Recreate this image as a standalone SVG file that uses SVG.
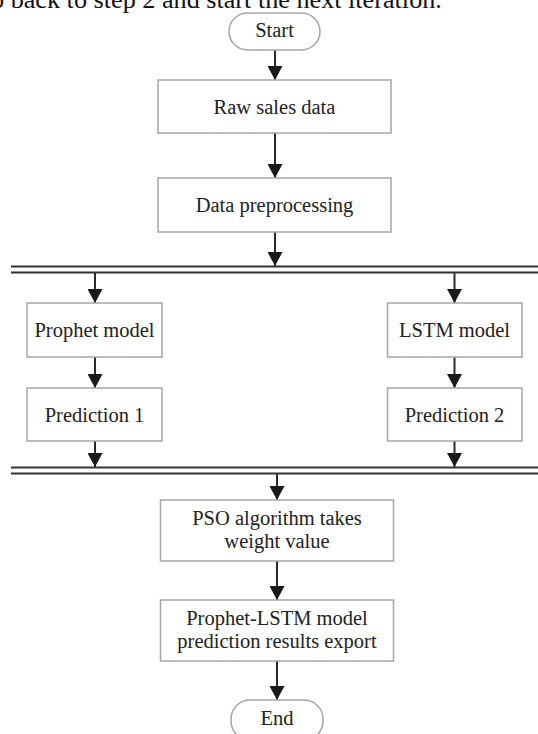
<svg xmlns="http://www.w3.org/2000/svg" width="538" height="734" viewBox="0 0 538 734">
<defs>
<style>
.box{fill:#fff;stroke:#a6a6a6;stroke-width:1.5}
.lbl{font-family:"Liberation Serif","Times New Roman",serif;font-size:20.5px;fill:#222;text-anchor:middle}
.cn{stroke:#2a2a2a;stroke-width:2;fill:none}
.bus{stroke:#333;stroke-width:2;fill:none}
</style>
<marker id="ah" markerUnits="userSpaceOnUse" viewBox="0 0 14 15" markerWidth="14" markerHeight="15" refX="14" refY="7.5" orient="auto">
<path d="M0,0 L14,7.5 L0,15 z" fill="#1a1a1a"/>
</marker>
</defs>
<rect width="538" height="734" fill="#fff"/>
<text x="-9" y="7.5" font-family="Liberation Serif, serif" font-size="26.2" fill="#111">o back to step 2 and start the next iteration.</text>

<g id="connectors">
<line class="cn" x1="275" y1="50" x2="275" y2="80" marker-end="url(#ah)"/>
<line class="cn" x1="275" y1="133" x2="275" y2="178" marker-end="url(#ah)"/>
<line class="cn" x1="275" y1="232" x2="275" y2="266" marker-end="url(#ah)"/>
<line class="bus" x1="11" y1="266.5" x2="538" y2="266.5"/>
<line class="bus" x1="11" y1="272.5" x2="538" y2="272.5"/>
<line class="cn" x1="95" y1="273" x2="95" y2="303" marker-end="url(#ah)"/>
<line class="cn" x1="454.5" y1="273" x2="454.5" y2="303" marker-end="url(#ah)"/>
<line class="cn" x1="95" y1="357" x2="95" y2="388" marker-end="url(#ah)"/>
<line class="cn" x1="454.5" y1="357" x2="454.5" y2="388" marker-end="url(#ah)"/>
<line class="cn" x1="95" y1="441" x2="95" y2="467" marker-end="url(#ah)"/>
<line class="cn" x1="454.5" y1="441" x2="454.5" y2="467" marker-end="url(#ah)"/>
<line class="bus" x1="11" y1="467.5" x2="538" y2="467.5"/>
<line class="bus" x1="11" y1="473.5" x2="538" y2="473.5"/>
<line class="cn" x1="277" y1="474" x2="277" y2="500" marker-end="url(#ah)"/>
<line class="cn" x1="277" y1="561" x2="277" y2="600" marker-end="url(#ah)"/>
<line class="cn" x1="277" y1="661" x2="277" y2="700" marker-end="url(#ah)"/>
</g>

<g id="start"><rect class="box" x="229" y="13" width="91" height="37" rx="18.5"/><text class="lbl" x="274.5" y="37">Start</text></g>
<g id="raw"><rect class="box" x="158" y="80" width="233" height="53"/><text class="lbl" x="274.5" y="114">Raw sales data</text></g>
<g id="prep"><rect class="box" x="158" y="178" width="233" height="54"/><text class="lbl" x="274.5" y="212">Data preprocessing</text></g>
<g id="prophet"><rect class="box" x="27" y="303" width="135" height="54"/><text class="lbl" x="94.5" y="337">Prophet model</text></g>
<g id="lstm"><rect class="box" x="387.5" y="303" width="134.5" height="54"/><text class="lbl" x="454.5" y="337">LSTM model</text></g>
<g id="pred1"><rect class="box" x="27" y="388" width="135" height="53"/><text class="lbl" x="94.5" y="422">Prediction 1</text></g>
<g id="pred2"><rect class="box" x="387.5" y="388" width="134.5" height="53"/><text class="lbl" x="454.5" y="422">Prediction 2</text></g>
<g id="pso"><rect class="box" x="160.5" y="500" width="233" height="61"/><text class="lbl" x="277" y="525">PSO algorithm takes</text><text class="lbl" x="277" y="548">weight value</text></g>
<g id="export"><rect class="box" x="160.5" y="600" width="233" height="61"/><text class="lbl" x="277" y="625">Prophet-LSTM model</text><text class="lbl" x="277" y="648">prediction results export</text></g>
<g id="end"><rect class="box" x="231" y="700" width="92" height="40" rx="19"/><text class="lbl" x="277" y="725">End</text></g>
</svg>
